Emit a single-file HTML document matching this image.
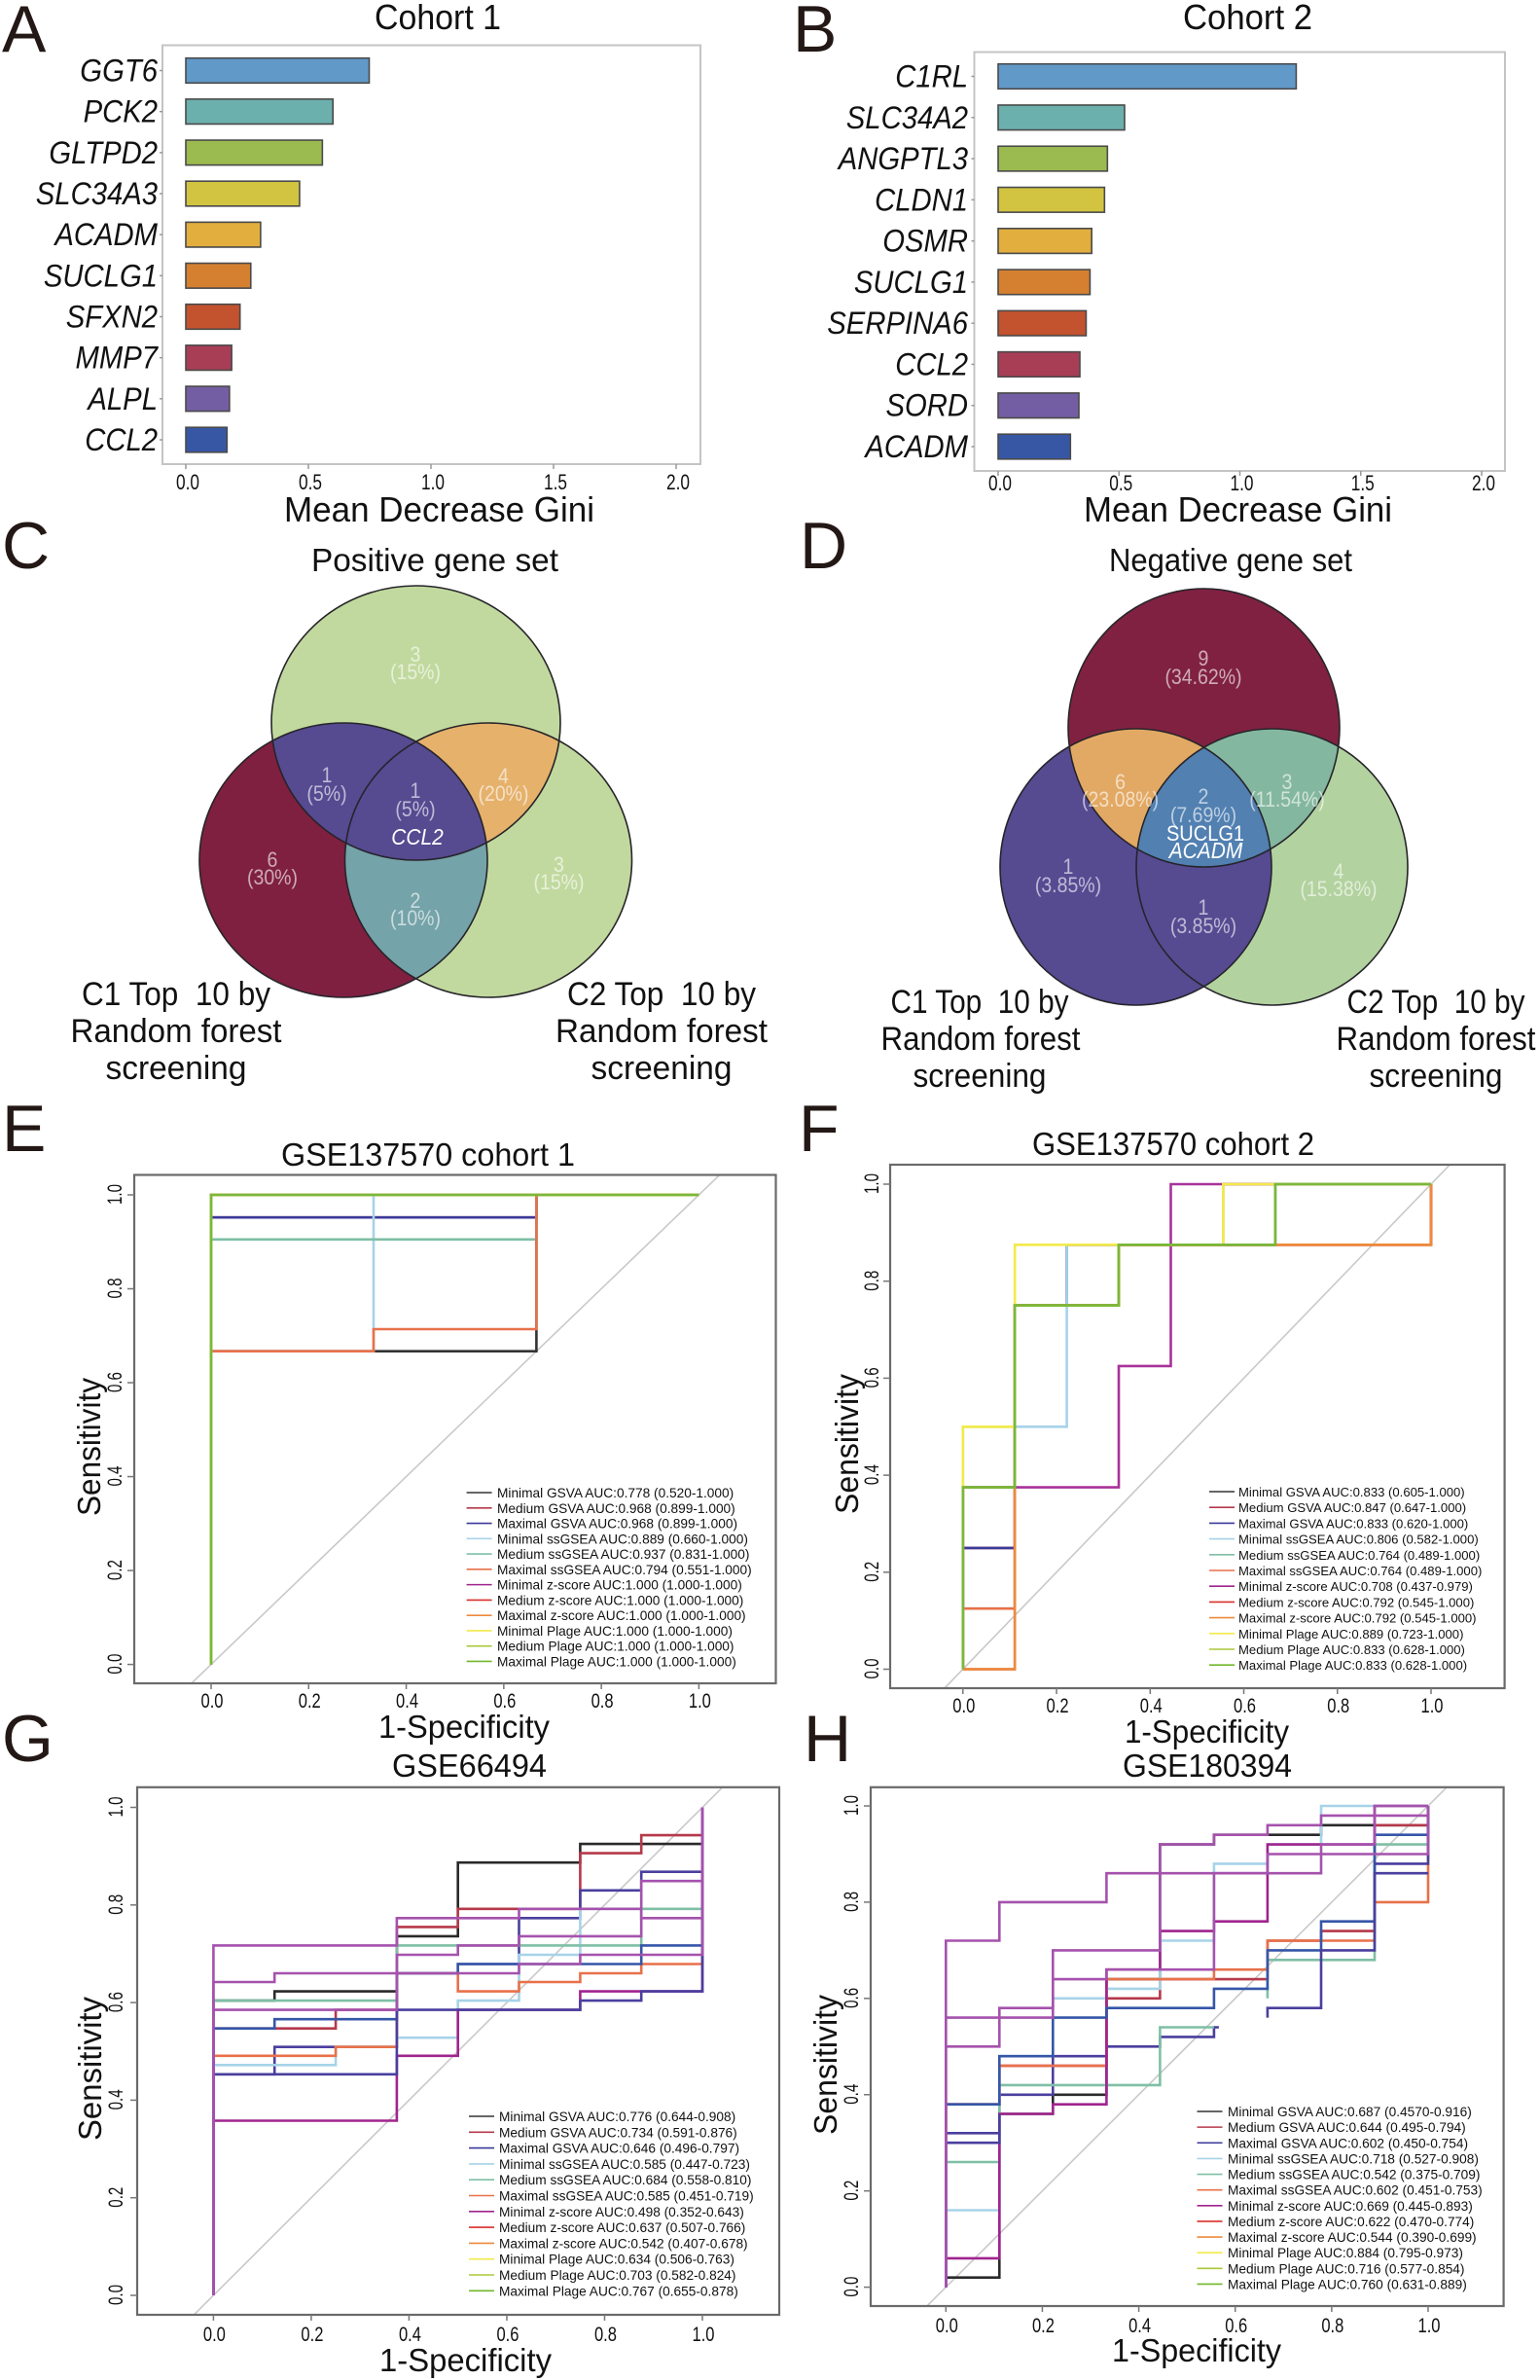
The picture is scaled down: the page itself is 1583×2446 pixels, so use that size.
<!DOCTYPE html>
<html lang="en">
<head>
<meta charset="utf-8">
<title>Random forest screening and ROC figure</title>
<style>
html,body{margin:0;padding:0;background:#fff;}
svg{display:block;}
text{font-family:"Liberation Sans",sans-serif;fill:#111;}
.panel-letter{font-size:68px;fill:#231815;}
.heading{font-size:33px;}
.venn-label{font-size:34px;text-anchor:middle;}
.venn-num{font-size:22px;text-anchor:middle;fill:rgba(255,255,255,.62);}
.venn-gene{text-anchor:middle;fill:#fff;}
</style>
</head>
<body>
<svg id="figure" xmlns="http://www.w3.org/2000/svg" width="1583" height="2446" viewBox="0 0 1583 2446">
<rect x="0" y="0" width="1583" height="2446" fill="#fff"/>

<text class="panel-letter" x="2" y="53">A</text>
<text class="panel-letter" x="815" y="53">B</text>
<text class="panel-letter" x="2" y="584">C</text>
<text class="panel-letter" x="822" y="584">D</text>
<text class="panel-letter" x="2" y="1183">E</text>
<text class="panel-letter" x="821" y="1183">F</text>
<text class="panel-letter" x="2" y="1810">G</text>
<text class="panel-letter" x="826" y="1810">H</text>

<text class="heading" x="385" y="30" textLength="130" lengthAdjust="spacingAndGlyphs" style="font-size:36px">Cohort 1</text>
<text class="heading" x="1216" y="30" textLength="133" lengthAdjust="spacingAndGlyphs" style="font-size:36px">Cohort 2</text>
<text class="heading" x="292" y="536" textLength="319" lengthAdjust="spacingAndGlyphs" style="font-size:36px">Mean Decrease Gini</text>
<text class="heading" x="1114" y="536" textLength="317" lengthAdjust="spacingAndGlyphs" style="font-size:36px">Mean Decrease Gini</text>

<!-- Venn C -->
<g>
<defs>
<clipPath id="cT"><ellipse cx="427.5" cy="743" rx="148.5" ry="141"/></clipPath>
<clipPath id="cL"><ellipse cx="353" cy="884" rx="148" ry="141"/></clipPath>
<clipPath id="cR"><ellipse cx="502" cy="884" rx="147.5" ry="141"/></clipPath>
<clipPath id="dT"><ellipse cx="1237.5" cy="748" rx="139.5" ry="143"/></clipPath>
<clipPath id="dL"><ellipse cx="1167.5" cy="891" rx="139.5" ry="142"/></clipPath>
<clipPath id="dR"><ellipse cx="1307.5" cy="891" rx="139.5" ry="142"/></clipPath>
</defs>
<ellipse cx="427.5" cy="743" rx="148.5" ry="141" fill="#c1d99e"/>
<ellipse cx="502" cy="884" rx="147.5" ry="141" fill="#c1d99e"/>
<ellipse cx="353" cy="884" rx="148" ry="141" fill="#7f2040"/>
<ellipse cx="353" cy="884" rx="148" ry="141" fill="#564a91" clip-path="url(#cT)"/>
<ellipse cx="502" cy="884" rx="147.5" ry="141" fill="#e5b16b" clip-path="url(#cT)"/>
<ellipse cx="502" cy="884" rx="147.5" ry="141" fill="#74a3a9" clip-path="url(#cL)"/>
<g clip-path="url(#cT)"><ellipse cx="502" cy="884" rx="147.5" ry="141" fill="#564a91" clip-path="url(#cL)"/></g>
<g fill="none" stroke="#26242a" stroke-width="1.6">
<ellipse cx="427.5" cy="743" rx="148.5" ry="141"/>
<ellipse cx="353" cy="884" rx="148" ry="141"/>
<ellipse cx="502" cy="884" rx="147.5" ry="141"/>
</g>
<text class="venn-num" x="427" y="680">3</text><text class="venn-num" x="427" y="698">(15%)</text>
<text class="venn-num" x="336" y="804">1</text><text class="venn-num" x="336" y="823">(5%)</text>
<text class="venn-num" x="427" y="820">1</text><text class="venn-num" x="427" y="839">(5%)</text>
<text class="venn-gene" x="429" y="868" font-style="italic" font-size="23">CCL2</text>
<text class="venn-num" x="517.5" y="805">4</text><text class="venn-num" x="517.5" y="823">(20%)</text>
<text class="venn-num" x="280" y="891">6</text><text class="venn-num" x="280" y="909">(30%)</text>
<text class="venn-num" x="574.5" y="896">3</text><text class="venn-num" x="574.5" y="914">(15%)</text>
<text class="venn-num" x="427" y="933">2</text><text class="venn-num" x="427" y="951">(10%)</text>
</g>
<text class="heading" x="320" y="587" textLength="254" lengthAdjust="spacingAndGlyphs">Positive gene set</text>
<g>
<text class="venn-label" x="181" y="1033" textLength="194" lengthAdjust="spacingAndGlyphs">C1 Top&#160; 10 by</text>
<text class="venn-label" x="181" y="1071" textLength="217" lengthAdjust="spacingAndGlyphs">Random forest</text>
<text class="venn-label" x="181" y="1109" textLength="145" lengthAdjust="spacingAndGlyphs">screening</text>
</g>
<g>
<text class="venn-label" x="680" y="1033" textLength="194" lengthAdjust="spacingAndGlyphs">C2 Top&#160; 10 by</text>
<text class="venn-label" x="680" y="1071" textLength="218" lengthAdjust="spacingAndGlyphs">Random forest</text>
<text class="venn-label" x="680" y="1109" textLength="145" lengthAdjust="spacingAndGlyphs">screening</text>
</g>

<!-- Venn D -->
<g>
<ellipse cx="1237.5" cy="748" rx="139.5" ry="143" fill="#802141"/>
<ellipse cx="1307.5" cy="891" rx="139.5" ry="142" fill="#b2d29f"/>
<ellipse cx="1167.5" cy="891" rx="139.5" ry="142" fill="#564a91"/>
<ellipse cx="1167.5" cy="891" rx="139.5" ry="142" fill="#e2a964" clip-path="url(#dT)"/>
<ellipse cx="1307.5" cy="891" rx="139.5" ry="142" fill="#84b79f" clip-path="url(#dT)"/>
<g clip-path="url(#dT)"><ellipse cx="1307.5" cy="891" rx="139.5" ry="142" fill="#5180b1" clip-path="url(#dL)"/></g>
<g fill="none" stroke="#26242a" stroke-width="1.6">
<ellipse cx="1237.5" cy="748" rx="139.5" ry="143"/>
<ellipse cx="1167.5" cy="891" rx="139.5" ry="142"/>
<ellipse cx="1307.5" cy="891" rx="139.5" ry="142"/>
</g>
<text class="venn-num" x="1237" y="684">9</text><text class="venn-num" x="1237" y="703">(34.62%)</text>
<text class="venn-num" x="1151.6" y="811">6</text><text class="venn-num" x="1151.6" y="829">(23.08%)</text>
<text class="venn-num" x="1237" y="826">2</text><text class="venn-num" x="1237" y="845">(7.69%)</text>
<text class="venn-gene" x="1239" y="864" font-size="22">SUCLG1</text>
<text class="venn-gene" x="1239.5" y="882" font-style="italic" font-size="23">ACADM</text>
<text class="venn-num" x="1323" y="811">3</text><text class="venn-num" x="1323" y="829">(11.54%)</text>
<text class="venn-num" x="1098" y="898">1</text><text class="venn-num" x="1098" y="917">(3.85%)</text>
<text class="venn-num" x="1237" y="940">1</text><text class="venn-num" x="1237" y="959">(3.85%)</text>
<text class="venn-num" x="1376" y="903">4</text><text class="venn-num" x="1376" y="921">(15.38%)</text>
</g>
<text class="heading" x="1140" y="587" textLength="250" lengthAdjust="spacingAndGlyphs">Negative gene set</text>
<g>
<text class="venn-label" x="1007" y="1041" textLength="183" lengthAdjust="spacingAndGlyphs">C1 Top&#160; 10 by</text>
<text class="venn-label" x="1008" y="1079" textLength="205" lengthAdjust="spacingAndGlyphs">Random forest</text>
<text class="venn-label" x="1007" y="1117" textLength="137" lengthAdjust="spacingAndGlyphs">screening</text>
</g>
<g>
<text class="venn-label" x="1476" y="1041" textLength="183" lengthAdjust="spacingAndGlyphs">C2 Top&#160; 10 by</text>
<text class="venn-label" x="1476" y="1079" textLength="205" lengthAdjust="spacingAndGlyphs">Random forest</text>
<text class="venn-label" x="1476" y="1117" textLength="137" lengthAdjust="spacingAndGlyphs">screening</text>
</g>

<!-- ROC headings -->
<text class="heading" x="289" y="1198" textLength="302" lengthAdjust="spacingAndGlyphs">GSE137570 cohort 1</text>
<text class="heading" x="1061" y="1187" textLength="290" lengthAdjust="spacingAndGlyphs">GSE137570 cohort 2</text>
<text class="heading" x="403" y="1826" textLength="159" lengthAdjust="spacingAndGlyphs">GSE66494</text>
<text class="heading" x="1154" y="1826" textLength="174" lengthAdjust="spacingAndGlyphs">GSE180394</text>
<text class="heading" x="389" y="1786" textLength="176" lengthAdjust="spacingAndGlyphs">1-Specificity</text>
<text class="heading" x="1156" y="1791" textLength="169" lengthAdjust="spacingAndGlyphs">1-Specificity</text>
<text class="heading" x="390" y="2437" textLength="177" lengthAdjust="spacingAndGlyphs">1-Specificity</text>
<text class="heading" x="1143" y="2427" textLength="174" lengthAdjust="spacingAndGlyphs">1-Specificity</text>
<text class="heading" transform="translate(103,1558) rotate(-90)" textLength="142" lengthAdjust="spacingAndGlyphs">Sensitivity</text>
<text class="heading" transform="translate(882,1556) rotate(-90)" textLength="144" lengthAdjust="spacingAndGlyphs">Sensitivity</text>
<text class="heading" transform="translate(104,2200) rotate(-90)" textLength="148" lengthAdjust="spacingAndGlyphs">Sensitivity</text>
<text class="heading" transform="translate(860,2194) rotate(-90)" textLength="144" lengthAdjust="spacingAndGlyphs">Sensitivity</text>
</svg>

<script>
/* ---------- bar chart data ---------- */
const genesCohort1 = ['GGT6','PCK2','GLTPD2','SLC34A3','ACADM','SUCLG1','SFXN2','MMP7','ALPL','CCL2'];
const giniCohort1 = [0.748,0.60,0.557,0.464,0.305,0.265,0.221,0.187,0.178,0.168];
const genesCohort2 = ['C1RL','SLC34A2','ANGPTL3','CLDN1','OSMR','SUCLG1','SERPINA6','CCL2','SORD','ACADM'];
const giniCohort2 = [1.233,0.523,0.452,0.44,0.387,0.38,0.364,0.338,0.334,0.299];
const giniTicks = [0,0.5,1,1.5,2];
const barColors = ['#6199c8','#6cb0ae','#9bbb50','#d2c340','#e2ae3e','#d58030','#c3522e','#a83d56','#745ea3','#3757a5'];

/* ---------- ROC data ---------- */
const rocTicks = [0,0.2,0.4,0.6,0.8,1];
const methodNames = ['Minimal GSVA','Medium GSVA','Maximal GSVA','Minimal ssGSEA','Medium ssGSEA','Maximal ssGSEA','Minimal z-score','Medium z-score','Maximal z-score','Minimal Plage','Medium Plage','Maximal Plage'];
const legendColors = ['#333333','#b5394a','#3b3a9a','#a7d3e8','#7fbfa5','#e8714a','#a0248e','#d9302a','#ee8a3c','#f3ea4a','#a8c83a','#72b82c'];
const plotColorsEF = ['#333333','#b5394a','#3b3a9a','#a7d3e8','#7fbfa5','#e8714a','#a8329a','#d9302a','#ee8a3c','#f3ea4a','#a8c83a','#7ab83a'];
const plotColorsGH = ['#2a2a2a','#b5394a','#4a3f9e','#a7d3e8','#7fbfa5','#e8714a','#a0248e','#3556a8','#4a3f9e','#a552ad','#a552ad','#a552ad'];

const aucE = ['0.778','0.968','0.968','0.889','0.937','0.794','1.000','1.000','1.000','1.000','1.000','1.000'];
const ciE = ['0.520-1.000','0.899-1.000','0.899-1.000','0.660-1.000','0.831-1.000','0.551-1.000','1.000-1.000','1.000-1.000','1.000-1.000','1.000-1.000','1.000-1.000','1.000-1.000'];
const aucF = ['0.833','0.847','0.833','0.806','0.764','0.764','0.708','0.792','0.792','0.889','0.833','0.833'];
const ciF = ['0.605-1.000','0.647-1.000','0.620-1.000','0.582-1.000','0.489-1.000','0.489-1.000','0.437-0.979','0.545-1.000','0.545-1.000','0.723-1.000','0.628-1.000','0.628-1.000'];
const aucG = ['0.776','0.734','0.646','0.585','0.684','0.585','0.498','0.637','0.542','0.634','0.703','0.767'];
const ciG = ['0.644-0.908','0.591-0.876','0.496-0.797','0.447-0.723','0.558-0.810','0.451-0.719','0.352-0.643','0.507-0.766','0.407-0.678','0.506-0.763','0.582-0.824','0.655-0.878'];
const aucH = ['0.687','0.644','0.602','0.718','0.542','0.602','0.669','0.622','0.544','0.884','0.716','0.760'];
const ciH = ['0.4570-0.916','0.495-0.794','0.450-0.754','0.527-0.908','0.375-0.709','0.451-0.753','0.445-0.893','0.470-0.774','0.390-0.699','0.795-0.973','0.577-0.854','0.631-0.889'];

const rocE = [
 [[0,0],[0,.667],[.667,.667],[.667,1],[1,1]],
 [[0,0],[0,.952],[.667,.952],[.667,1],[1,1]],
 [[0,0],[0,.952],[.667,.952],[.667,1],[1,1]],
 [[0,0],[0,.667],[.333,.667],[.333,1],[1,1]],
 [[0,0],[0,.905],[.667,.905],[.667,1],[1,1]],
 [[0,0],[0,.667],[.333,.667],[.333,.714],[.667,.714],[.667,1],[1,1]],
 [[0,0],[0,1],[1,1]],
 [[0,0],[0,1],[1,1]],
 [[0,0],[0,1],[1,1]],
 [[0,0],[0,1],[1,1]],
 [[0,0],[0,1],[1,1]],
 [[0,0],[0,1],[1,1]]
];
const rocF = [
 [[0,0],[0,.375],[.111,.375],[.111,.75],[.333,.75],[.333,.875],[.667,.875],[.667,1],[1,1]],
 [[0,0],[0,.25],[.111,.25],[.111,.75],[.222,.75],[.222,.875],[.556,.875],[.556,1],[1,1]],
 [[0,0],[0,.25],[.111,.25],[.111,.75],[.222,.75],[.222,.875],[.667,.875],[.667,1],[1,1]],
 [[0,0],[0,.5],[.222,.5],[.222,.875],[.667,.875],[.667,1],[1,1]],
 [[0,0],[0,.125],[.111,.125],[.111,.75],[.333,.75],[.333,.875],[1,.875],[1,1]],
 [[0,0],[0,.125],[.111,.125],[.111,.75],[.333,.75],[.333,.875],[1,.875],[1,1]],
 [[0,0],[0,.375],[.333,.375],[.333,.625],[.444,.625],[.444,1],[1,1]],
 [[0,0],[.111,0],[.111,.75],[.333,.75],[.333,.875],[1,.875],[1,1]],
 [[0,0],[.111,0],[.111,.75],[.333,.75],[.333,.875],[1,.875],[1,1]],
 [[0,0],[0,.5],[.111,.5],[.111,.875],[.556,.875],[.556,1],[1,1]],
 [[0,0],[0,.375],[.111,.375],[.111,.75],[.333,.75],[.333,.875],[.667,.875],[.667,1],[1,1]],
 [[0,0],[0,.375],[.111,.375],[.111,.75],[.333,.75],[.333,.875],[.667,.875],[.667,1],[1,1]]
];
const rocG = [
 [[0,0],[0,.604],[.125,.604],[.125,.623],[.375,.623],[.375,.736],[.5,.736],[.5,.887],[.75,.887],[.75,.925],[1,.925],[1,1]],
 [[0,0],[0,.547],[.25,.547],[.25,.585],[.375,.585],[.375,.755],[.5,.755],[.5,.792],[.75,.792],[.75,.906],[.875,.906],[.875,.943],[1,.943],[1,1]],
 [[0,0],[0,.453],[.125,.453],[.125,.509],[.375,.509],[.375,.66],[.5,.66],[.5,.679],[.625,.679],[.625,.773],[.75,.773],[.75,.83],[.875,.83],[.875,.868],[1,.868],[1,1]],
 [[0,0],[0,.472],[.25,.472],[.25,.509],[.375,.509],[.375,.528],[.5,.528],[.5,.604],[.625,.604],[.625,.698],[.75,.698],[.75,.792],[.875,.792],[.875,.849],[1,.849],[1,1]],
 [[0,0],[0,.604],[.375,.604],[.375,.717],[.875,.717],[.875,.792],[1,.792],[1,1]],
 [[0,0],[0,.491],[.25,.491],[.25,.509],[.375,.509],[.375,.66],[.5,.66],[.5,.623],[.625,.623],[.625,.642],[.75,.642],[.75,.66],[.875,.66],[.875,.679],[1,.679],[1,1]],
 [[0,0],[0,.358],[.375,.358],[.375,.491],[.5,.491],[.5,.585],[.75,.585],[.75,.623],[1,.623],[1,1]],
 [[0,0],[0,.547],[.125,.547],[.125,.566],[.375,.566],[.375,.66],[.5,.66],[.5,.679],[.875,.679],[.875,.717],[1,.717],[1,1]],
 [[0,0],[0,.453],[.375,.453],[.375,.585],[.75,.585],[.75,.604],[.875,.604],[.875,.623],[1,.623],[1,1]],
 [[0,0],[0,.585],[.375,.585],[.375,.698],[.5,.698],[.5,.717],[.625,.717],[.625,.736],[.875,.736],[.875,.849],[1,.849],[1,1]],
 [[0,0],[0,.642],[.125,.642],[.125,.66],[.625,.66],[.625,.679],[.75,.679],[.75,.698],[1,.698],[1,1]],
 [[0,0],[0,.717],[.375,.717],[.375,.773],[.625,.773],[.625,.792],[.875,.792],[.875,.773],[1,.773],[1,1]]
];
const rocH = [
 [[0,0],[0,.02],[.111,.02],[.111,.36],[.222,.36],[.222,.4],[.333,.4],[.333,.64],[.444,.64],[.444,.92],[.556,.92],[.556,.94],[.778,.94],[.778,.96],[1,.96],[1,1]],
 [[0,0],[0,.38],[.111,.38],[.111,.46],[.333,.46],[.333,.6],[.444,.6],[.444,.64],[.667,.64],[.667,.72],[.778,.72],[.778,.74],[.889,.74],[.889,.96],[1,.96],[1,1]],
 [[0,0],[0,.32],[.111,.32],[.111,.40],[.222,.40],[.222,.48],[.333,.48],[.333,.5],[.444,.5],[.444,.52],[.556,.52],[.556,.54],[.566,.54]],
 [[0,0],[0,.16],[.111,.16],[.111,.48],[.222,.48],[.222,.6],[.333,.6],[.333,.62],[.444,.62],[.444,.72],[.556,.72],[.556,.88],[.667,.88],[.667,.92],[.778,.92],[.778,1],[1,1]],
 [[0,0],[0,.26],[.111,.26],[.111,.42],[.444,.42],[.444,.54],[.556,.54],null,[.667,.6],[.667,.68],[.889,.68],[.889,.92],[1,.92],[1,1]],
 [[0,0],[0,.38],[.111,.38],[.111,.46],[.333,.46],[.333,.64],[.556,.64],[.556,.66],[.667,.66],[.667,.72],[.889,.72],[.889,.8],[1,.8],[1,1]],
 [[0,0],[0,.06],[.111,.06],[.111,.36],[.222,.36],[.222,.38],[.333,.38],[.333,.66],[.444,.66],[.444,.74],[.556,.74],[.556,.76],[.667,.76],[.667,.92],[.889,.92],[.889,1],[1,1]],
 [[0,0],[0,.38],[.111,.38],[.111,.48],[.222,.48],[.222,.56],[.333,.56],[.333,.58],[.556,.58],[.556,.62],[.667,.62],[.667,.7],[.778,.7],[.778,.76],[.889,.76],[.889,.94],[1,.94],[1,1]],
 [[0,0],[0,.3],[.111,.3],[.111,.36],null,[.667,.56],[.667,.58],[.778,.58],[.778,.7],[.889,.7],[.889,.86],[1,.86],null,[.889,.88],[1,.88],[1,1]],
 [[0,0],[0,.5],[.111,.5],[.111,.56],[.222,.56],[.222,.64],[.333,.64],[.333,.66],[.556,.66],[.556,.86],[.667,.86],[.667,.9],[1,.9],[1,1]],
 [[0,0],[0,.56],[.111,.56],[.111,.58],[.222,.58],[.222,.7],[.444,.7],[.444,.92],[.556,.92],[.556,.94],[.667,.94],[.667,.96],[.778,.96],[.778,.98],[1,.98],[1,1]],
 [[0,0],[0,.72],[.111,.72],[.111,.8],[.333,.8],[.333,.86],[.778,.86],[.778,.92],[.889,.92],[.889,1],[1,1]]
];

/* ---------- helpers ---------- */
const NS = 'http://www.w3.org/2000/svg';
const figure = document.getElementById('figure');

function make(tag, parent) {
  const node = document.createElementNS(NS, tag);
  parent.appendChild(node);
  return node;
}
function line(parent, x1, y1, x2, y2, stroke, width) {
  const l = make('line', parent);
  l.setAttribute('x1', x1);
  l.setAttribute('y1', y1);
  l.setAttribute('x2', x2);
  l.setAttribute('y2', y2);
  l.setAttribute('stroke', stroke);
  l.setAttribute('stroke-width', width);
  return l;
}
function condense(textNode, factor) {
  const natural = textNode.getComputedTextLength();
  textNode.setAttribute('textLength', (natural * factor).toFixed(1));
  textNode.setAttribute('lengthAdjust', 'spacingAndGlyphs');
}

/* Tall narrow glyphs as in the source figure */
document.querySelectorAll('.venn-num').forEach(t => {
  condense(t, 0.886);
  
  
});
document.querySelectorAll('.venn-gene').forEach(t => condense(t, 0.91));

/* ---------- bar charts ---------- */
function drawBars(id, genes, values, f) {
  const g = make('g', figure);
  
  
  const sx = v => f.x0 + v * (f.x2 - f.x0) / 2;
  const sy = i => f.yFirst + i * (f.yLast - f.yFirst) / (genes.length - 1);

  const frame = make('rect', g);
  frame.setAttribute('x', f.left);
  frame.setAttribute('y', f.top);
  frame.setAttribute('width', f.right - f.left);
  frame.setAttribute('height', f.bottom - f.top);
  frame.setAttribute('fill', '#fff');
  frame.setAttribute('stroke', '#c4c4c4');
  frame.setAttribute('stroke-width', 2);
  
  

  giniTicks.forEach(t => {
    const tick = line(g, sx(t), f.bottom, sx(t), f.bottom + 5, '#999', 1.5);
    
    
    const lab = make('text', g);
    lab.setAttribute('x', sx(t) + 2);
    lab.setAttribute('y', f.tickLabelY);
    lab.setAttribute('text-anchor', 'middle');
    lab.setAttribute('font-size', 22);
    lab.setAttribute('textLength', 24);
    lab.setAttribute('lengthAdjust', 'spacingAndGlyphs');
    
    
    lab.textContent = t.toFixed(1);
  });

  genes.forEach((name, i) => {
    const tick = line(g, f.left - 3, sy(i), f.left, sy(i), '#999', 1.5);
    
    
    const bar = make('rect', g);
    bar.setAttribute('x', sx(0));
    bar.setAttribute('y', sy(i) - 12.8);
    bar.setAttribute('width', sx(values[i]) - sx(0));
    bar.setAttribute('height', 25.6);
    bar.setAttribute('fill', barColors[i]);
    bar.setAttribute('stroke', '#4a4a4a');
    bar.setAttribute('stroke-width', 1.6);
    
    
    const lab = make('text', g);
    lab.setAttribute('x', f.labelRight);
    lab.setAttribute('y', sy(i) + 11);
    lab.setAttribute('text-anchor', 'end');
    lab.setAttribute('font-size', 32.5);
    lab.setAttribute('font-style', 'italic');
    
    
    lab.textContent = name;
    condense(lab, 0.9);
  });
}
drawBars('cohort-1', genesCohort1, giniCohort1, {left:167,right:720,top:46.5,bottom:477,x0:191,x2:695,yFirst:72.5,yLast:452,labelRight:162,tickLabelY:503});
drawBars('cohort-2', genesCohort2, giniCohort2, {left:1001.5,right:1547,top:53.5,bottom:484,x0:1026,x2:1523,yFirst:78.5,yLast:459,labelRight:995,tickLabelY:504});

/* ---------- ROC charts ---------- */
function drawRoc(id, series, colors, auc, ci, f) {
  const g = make('g', figure);
  
  
  const sx = v => f.x0 + v * (f.x1 - f.x0);
  const sy = v => f.y0 + v * (f.y1 - f.y0);

  const clip = make('clipPath', g);
  clip.setAttribute('id', id + '-clip');
  const clipRect = make('rect', clip);
  clipRect.setAttribute('x', f.left);
  clipRect.setAttribute('y', f.top);
  clipRect.setAttribute('width', f.right - f.left);
  clipRect.setAttribute('height', f.bottom - f.top);

  const diag = line(g, sx(-0.2), sy(-0.2), sx(1.2), sy(1.2), '#c9c9c9', 1.6);
  diag.setAttribute('clip-path', 'url(#' + id + '-clip)');
  
  

  series.forEach((pts, i) => {
    let d = '';
    let pen = 'M';
    pts.forEach(p => {
      if (p === null) { pen = 'M'; return; }
      d += pen + sx(p[0]).toFixed(1) + ' ' + sy(p[1]).toFixed(1);
      pen = 'L';
    });
    const path = make('path', g);
    path.setAttribute('d', d);
    path.setAttribute('fill', 'none');
    path.setAttribute('stroke', colors[i]);
    path.setAttribute('stroke-width', 2.6);
    
    
  });

  const frame = make('rect', g);
  frame.setAttribute('x', f.left);
  frame.setAttribute('y', f.top);
  frame.setAttribute('width', f.right - f.left);
  frame.setAttribute('height', f.bottom - f.top);
  frame.setAttribute('fill', 'none');
  frame.setAttribute('stroke', '#6a6a6a');
  frame.setAttribute('stroke-width', 2.2);
  
  

  rocTicks.forEach(t => {
    const tx = line(g, sx(t), f.bottom, sx(t), f.bottom + 6, '#777', 1.5);
    
    
    const ty = line(g, f.left - 7, sy(t), f.left, sy(t), '#777', 1.5);
    
    
    const lx = make('text', g);
    lx.setAttribute('x', sx(t) + 1);
    lx.setAttribute('y', f.xLabelY + 8);
    lx.setAttribute('text-anchor', 'middle');
    lx.setAttribute('font-size', 21);
    lx.setAttribute('textLength', 23);
    lx.setAttribute('lengthAdjust', 'spacingAndGlyphs');
    lx.setAttribute('fill', '#222');
    
    
    lx.textContent = t.toFixed(1);
    const ly = make('text', g);
    ly.setAttribute('transform', 'translate(' + (f.yLabelX + 8) + ',' + (sy(t) + 10) + ') rotate(-90)');
    ly.setAttribute('font-size', 21);
    ly.setAttribute('textLength', 21);
    ly.setAttribute('lengthAdjust', 'spacingAndGlyphs');
    ly.setAttribute('fill', '#444');
    
    
    ly.textContent = t.toFixed(1);
  });

  const legend = make('g', g);
  
  
  methodNames.forEach((name, i) => {
    const y = f.legendTop + i * f.legendStep;
    const swatch = line(legend, f.legendLine, y, f.legendLine + 26, y, legendColors[i], 1.6);
    
    
    const t = make('text', legend);
    t.setAttribute('x', f.legendText);
    t.setAttribute('y', y + 5);
    t.setAttribute('font-size', f.legendFont);
    t.setAttribute('fill', '#3a3a3a');
    
    
    t.textContent = name + ' AUC:' + auc[i] + ' (' + ci[i] + ')';
  });
}
drawRoc('roc-e', rocE, plotColorsEF, aucE, ciE, {left:138,right:797.5,top:1207.5,bottom:1730,x0:217,x1:718.4,y0:1710.6,y1:1228,xLabelY:1747,yLabelX:117,legendTop:1534,legendStep:15.77,legendLine:479.6,legendText:511,legendFont:13.7});
drawRoc('roc-f', rocF, plotColorsEF, aucF, ciF, {left:915,right:1546.6,top:1197,bottom:1735,x0:989.8,x1:1471,y0:1715.5,y1:1217,xLabelY:1752,yLabelX:895,legendTop:1533,legendStep:16.2,legendLine:1243,legendText:1273,legendFont:13.1});
drawRoc('roc-g', rocG, plotColorsGH, aucG, ciG, {left:141,right:801,top:1836.8,bottom:2379,x0:219.4,x1:722,y0:2359,y1:1857.5,xLabelY:2398,yLabelX:118,legendTop:2175,legendStep:16.3,legendLine:482,legendText:513,legendFont:13.7});
drawRoc('roc-h', rocH, plotColorsGH, aucH, ciH, {left:895,right:1545.6,top:1836.8,bottom:2370,x0:972.3,x1:1468,y0:2350.6,y1:1856,xLabelY:2389,yLabelX:874,legendTop:2170,legendStep:16.13,legendLine:1230.5,legendText:1262,legendFont:13.7});
</script>
</body>
</html>
